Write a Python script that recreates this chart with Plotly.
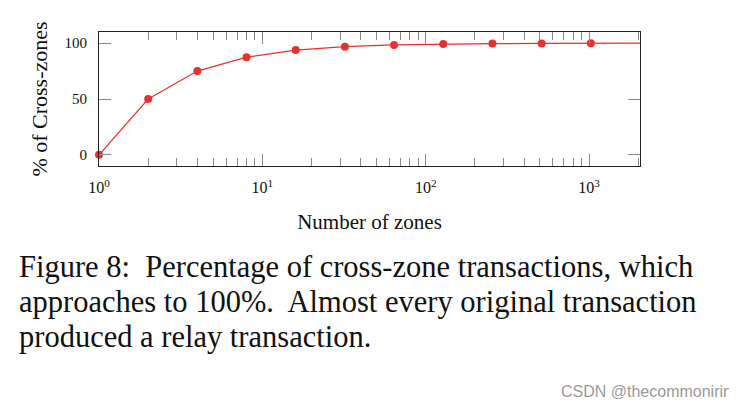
import plotly.graph_objects as go

# number of zones vs % of cross-zone transactions
zones = [1, 2, 4, 8, 16, 32, 64, 128, 256, 512, 1024, 2048]
cross_pct = [0, 50, 75, 87.5, 93.8, 96.9, 98.4, 99.2, 99.6, 99.8, 99.9, 100]

x_tickvals = [1, 10, 100, 1000]
x_ticktext = ["10<sup>0</sup>", "10<sup>1</sup>", "10<sup>2</sup>", "10<sup>3</sup>"]
y_tickvals = [0, 50, 100]

caption_lines = [
    "Figure 8:  Percentage of cross-zone transactions, which",
    "approaches to 100%.  Almost every original transaction",
    "produced a relay transaction.",
]

# page body has an 8px margin, so work in shifted pixel coords
OFF = 8
W, H = 737 - OFF, 410 - OFF
L, R, T, B = 99 - OFF, 640 - OFF, 32 - OFF, 166 - OFF

def px_x(px):
    return (px - OFF - L) / (R - L)

def px_y(py):
    return (B - (py - OFF)) / (B - T)

serif = "Liberation Serif"
red = "#e8312c"

fig = go.Figure()
fig.add_trace(go.Scatter(
    x=zones, y=cross_pct, mode="lines+markers",
    line=dict(color=red, width=1.2),
    marker=dict(color=red, size=8),
    cliponaxis=False,
    showlegend=False,
))

fig.update_xaxes(
    type="log", range=[0, 3.3113], automargin=False,
    tickvals=x_tickvals, ticktext=x_ticktext,
    ticks="inside", ticklen=12, tickcolor="#8a8a8a", tickwidth=1,
    minor=dict(ticks="inside", ticklen=8, tickcolor="#8a8a8a", tickwidth=1,
               tickvals=[2, 3, 4, 5, 6, 7, 8, 9, 20, 30, 40, 50, 60, 70, 80, 90,
                         200, 300, 400, 500, 600, 700, 800, 900, 2000]),
    showline=True, linecolor="#222", linewidth=1.2, mirror="allticks",
    showgrid=False, zeroline=False,
    tickfont=dict(family=serif, size=16, color="#111"),
    ticklabelstandoff=7,
    title=dict(text="Number of zones", font=dict(family=serif, size=21, color="#111"), standoff=19),
)
fig.update_yaxes(
    range=[-10, 110], tickvals=y_tickvals, automargin=False,
    ticks="inside", ticklen=12, tickcolor="#8a8a8a", tickwidth=1,
    showline=True, linecolor="#222", linewidth=1.2, mirror="allticks",
    showgrid=False, zeroline=False,
    tickfont=dict(family=serif, size=15, color="#111"),
    ticklabelstandoff=8,
    title=dict(text="% of Cross-zones", font=dict(family=serif, size=22, color="#111"), standoff=10),
)

annotations = []
for i, line in enumerate(caption_lines):
    annotations.append(dict(
        text=line, xref="paper", yref="paper",
        x=px_x(17), y=px_y(267 + 35 * i),
        xanchor="left", yanchor="middle", showarrow=False,
        font=dict(family=serif, size=30.5, color="#111"),
    ))
annotations.append(dict(
    text="CSDN @thecommonirin", xref="paper", yref="paper",
    x=px_x(734), y=px_y(391), xanchor="right", yanchor="middle",
    showarrow=False, font=dict(family="Liberation Sans Narrow, Liberation Sans", size=16, color="#9a9a9a"),
))

fig.update_layout(
    width=W, height=H,
    margin=dict(l=L, r=W - R, t=T, b=H - B, autoexpand=False),
    plot_bgcolor="white", paper_bgcolor="white",
    annotations=annotations,
)

fig.write_html("out.html")
